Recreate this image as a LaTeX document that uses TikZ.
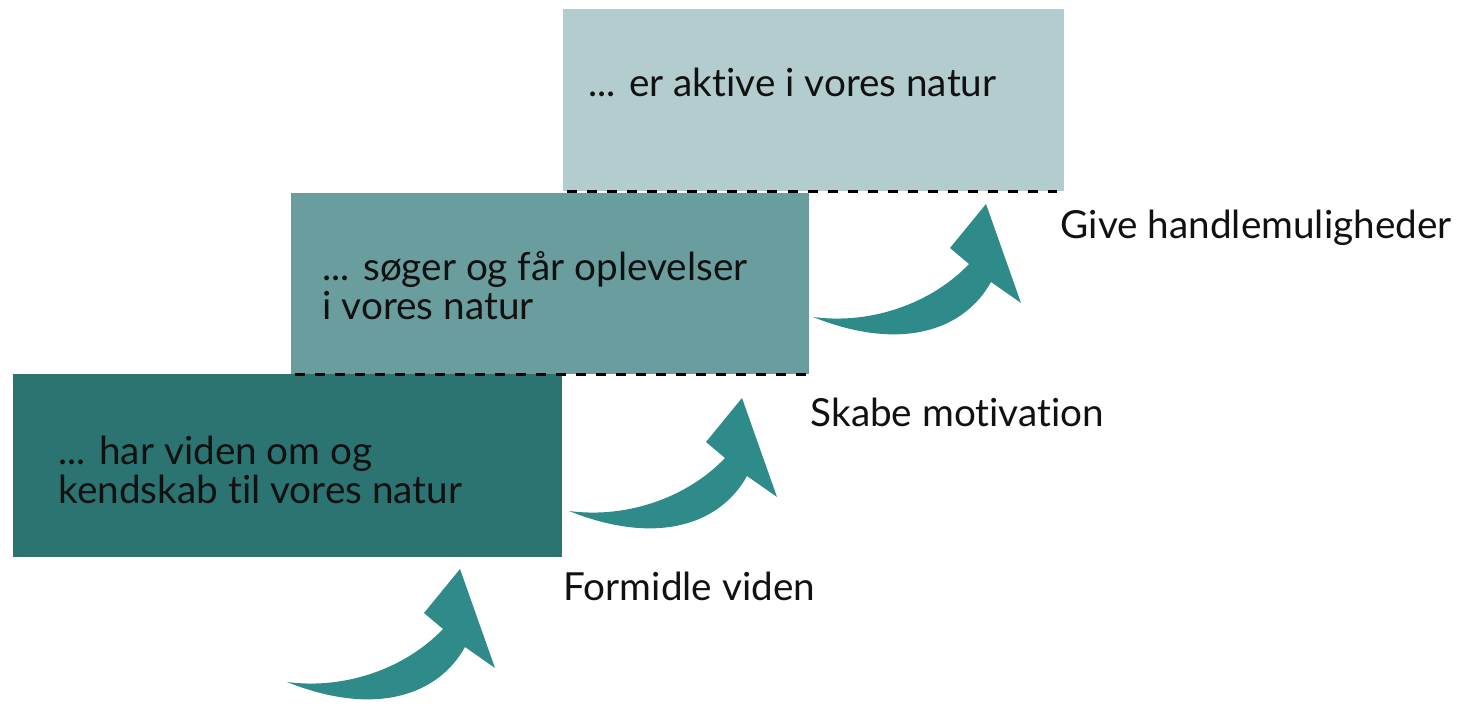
\documentclass[tikz,border=0pt]{standalone}
\usepackage{fontspec}
\setmainfont{Lato}[Ligatures={NoCommon}]
\usetikzlibrary{positioning}

\definecolor{stepdark}{HTML}{2C7472}
\definecolor{stepmid}{HTML}{6A9E9E}
\definecolor{steplight}{HTML}{B3CDCE}
\definecolor{arrowteal}{HTML}{2E8B8A}
\definecolor{textblack}{HTML}{111111}

\tikzset{
  stepbox/.style={inner sep=0pt, anchor=north west},
  boxtext/.style={anchor=west, align=left, inner sep=0pt, text=textblack,
    font=\fontsize{11}{10}\selectfont},
  steplabel/.style={anchor=west, inner sep=0pt, text=textblack,
    font=\fontsize{11}{10}\selectfont},
  dashline/.style={dash pattern=on 2.85pt off 2.85pt, line width=1pt},
  stairarrow/.pic={
    \fill[arrowteal] (0,0) .. controls (60,8) and (120,-15) .. (156,-53)
      -- (137,-69) -- (173,-113) -- (208,-14) -- (178,-35)
      .. controls (152,12) and (90,36) .. (0,0) -- cycle;
  }
}

\begin{document}
\begin{tikzpicture}[x=0.01cm, y=-0.01cm]
	\useasboundingbox (0,0) rectangle (1460,710);
	
	% trin
	\node[stepbox, fill=stepdark, minimum width=5.49cm, minimum height=1.83cm] (box1) at (12,373) {};
	\node[stepbox, fill=stepmid, minimum width=5.18cm, minimum height=1.81cm] (box2) at (290,192) {};
	\node[stepbox, fill=steplight, minimum width=5.01cm, minimum height=1.82cm] (box3) at (562,8) {};
	
	\draw[dashline] ([xshift=0.05cm]box2.south west) -- (box2.south east);
	\draw[dashline] ([xshift=0.05cm]box3.south west) -- ([xshift=-0.08cm]box3.south east);
	
	\node[boxtext, right=0.46cm of box1.west, yshift=-0.045cm] (text1) {... har viden om og\\kendskab til vores natur};
	\node[boxtext, right=0.32cm of box2.west, yshift=-0.025cm] (text2) {... søger og får oplevelser\\i vores natur};
	\node[boxtext, right=0.26cm of box3.west, yshift=0.17cm] (text3) {... er aktive i vores natur};
	
	% pile
	\pic at (287,682) {stairarrow};
	\pic at (569,511) {stairarrow};
	\pic at (813,317) {stairarrow};
	
	\node[steplabel] (label1) at (563,586) {Formidle viden};
	\node[steplabel] (label2) at (810,412) {Skabe motivation};
	\node[steplabel] (label3) at (1060,228) {Give handlemuligheder};
\end{tikzpicture}
\end{document}
